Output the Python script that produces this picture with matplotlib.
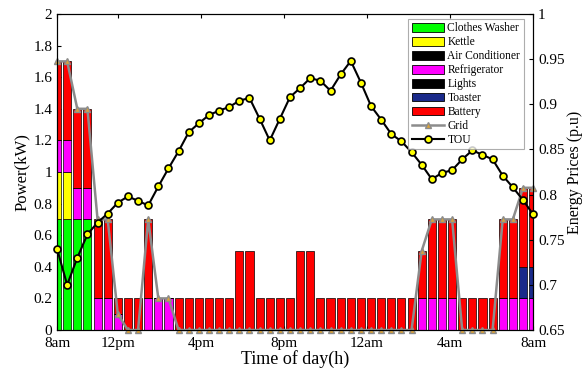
import numpy as np
import matplotlib
matplotlib.use("Agg")
import matplotlib.pyplot as plt
from matplotlib.patches import Patch
from matplotlib.lines import Line2D
from matplotlib.ticker import FuncFormatter

plt.rcParams['font.family'] = ['Liberation Serif', 'DejaVu Serif']

# ---- data (48 half-hour slots, 8am -> 8am) ----
slots = np.arange(1, 49)
clothes_washer = [0.7, 0.7, 0.7, 0.7] + [0.0] * 44
kettle = [0.3, 0.3] + [0.0] * 46
air_conditioner = [0.0] * 48
refrigerator = ([0.2, 0.2, 0.2, 0.2, 0.2, 0.2, 0.1, 0.0, 0.0, 0.2, 0.2, 0.2]
                + [0.0] * 24
                + [0.2, 0.2, 0.2, 0.2, 0.0, 0.0, 0.0, 0.0, 0.2, 0.2, 0.2, 0.2])
lights = [0.0] * 48
toaster = [0.0] * 46 + [0.2, 0.2]
battery = ([0.5, 0.5, 0.5, 0.5, 0.5, 0.5, 0.1, 0.2, 0.2, 0.5, 0.0, 0.0]
           + [0.2] * 6 + [0.5, 0.5] + [0.2] * 4 + [0.5, 0.5] + [0.2] * 10
           + [0.3, 0.5, 0.5, 0.5, 0.2, 0.2, 0.2, 0.2, 0.5, 0.5, 0.5, 0.5])
grid = ([1.7, 1.7, 1.4, 1.4, 0.7, 0.7, 0.1, 0.0, 0.0, 0.7, 0.2, 0.2]
        + [0.0] * 24
        + [0.5, 0.7, 0.7, 0.7, 0.0, 0.0, 0.0, 0.0, 0.7, 0.7, 0.9, 0.9])
tou = [0.740, 0.700, 0.730, 0.756, 0.769, 0.779, 0.791, 0.798, 0.793, 0.788,
       0.809, 0.829, 0.848, 0.869, 0.879, 0.888, 0.893, 0.897, 0.904, 0.907,
       0.884, 0.860, 0.884, 0.908, 0.918, 0.929, 0.926, 0.915, 0.933, 0.948,
       0.924, 0.898, 0.883, 0.867, 0.859, 0.847, 0.833, 0.817, 0.824, 0.827,
       0.839, 0.849, 0.844, 0.839, 0.821, 0.808, 0.794, 0.778]

tick_pos = [1, 7.0, 15.2, 23.4, 31.6, 39.8, 48]
tick_labels = ['8am', '12pm', '4pm', '8pm', '12am', '4am', '8am']

series = [
    ('Clothes Washer', clothes_washer, '#00FF00'),
    ('Kettle', kettle, '#FFFF00'),
    ('Air Conditioner', air_conditioner, '#000000'),
    ('Refrigerator', refrigerator, '#FF00FF'),
    ('Lights', lights, '#000000'),
    ('Toaster', toaster, '#1A2A8A'),
    ('Battery', battery, '#FF0000'),
]

fig = plt.figure(figsize=(5.82, 3.74), dpi=100)
ax = fig.add_axes([0.098, 0.1176, 0.818, 0.845])

bottom = np.zeros(48)
handles = []
for name, vals, col in series:
    v = np.array(vals)
    ax.bar(slots, v, width=0.8, bottom=bottom, color=col, edgecolor='black',
           linewidth=0.5, zorder=2)
    bottom += v
    handles.append(Patch(facecolor=col, edgecolor='black', linewidth=0.6, label=name))

ax.plot(slots, grid, color='#8C8C8C', lw=1.8, marker='^', ms=5,
        mfc='#D9A23A', mec='#8C8C8C', mew=1.0, zorder=3, clip_on=False)

ax.set_xlim(1, 48)
ax.set_ylim(0, 2)
ax.set_yticks(np.arange(0, 2.01, 0.2))
ax.yaxis.set_major_formatter(FuncFormatter(lambda v, p: '%g' % round(v, 2)))
ax.set_xticks(tick_pos)
ax.set_xticklabels(tick_labels)
ax.tick_params(direction='in', top=True, labelsize=11, length=3)
ax.tick_params(axis='x', pad=5)
ax.set_ylabel('Power(kW)', fontsize=12, labelpad=2)
ax.set_xlabel('Time of day(h)', fontsize=13, labelpad=0)

ax2 = ax.twinx()
ax2.plot(slots, tou, color='black', lw=1.5, marker='o', ms=5,
         mfc='#FFFF00', mec='black', mew=1.2, zorder=4, clip_on=False)
ax2.set_ylim(0.65, 1.0)
ax2.set_yticks(np.arange(0.65, 1.001, 0.05))
ax2.yaxis.set_major_formatter(FuncFormatter(lambda v, p: '%g' % round(v, 2)))
ax2.tick_params(direction='in', labelsize=11, length=3)
ax2.set_ylabel('Energy Prices (p.u)', fontsize=11.5, labelpad=2)

for a in (ax, ax2):
    for s in a.spines.values():
        s.set_linewidth(0.8)

handles.append(Line2D([], [], color='#8C8C8C', lw=1.8, marker='^', ms=5,
                      mfc='#D9A23A', mec='#8C8C8C', label='Grid'))
handles.append(Line2D([], [], color='black', lw=1.5, marker='o', ms=5,
                      mfc='#FFFF00', mec='black', mew=1.2, label='TOU'))
leg = ax2.legend(handles=handles, loc='upper right', bbox_to_anchor=(0.985, 0.992),
                 fontsize=8.3, frameon=True, fancybox=False, edgecolor='#999999',
                 labelspacing=0.17, handlelength=2.8, handleheight=0.8,
                 handletextpad=0.3, borderpad=0.3, borderaxespad=0.2)
leg.get_frame().set_linewidth(0.8)
leg.set_zorder(10)

fig.savefig('out.png', dpi=100)
